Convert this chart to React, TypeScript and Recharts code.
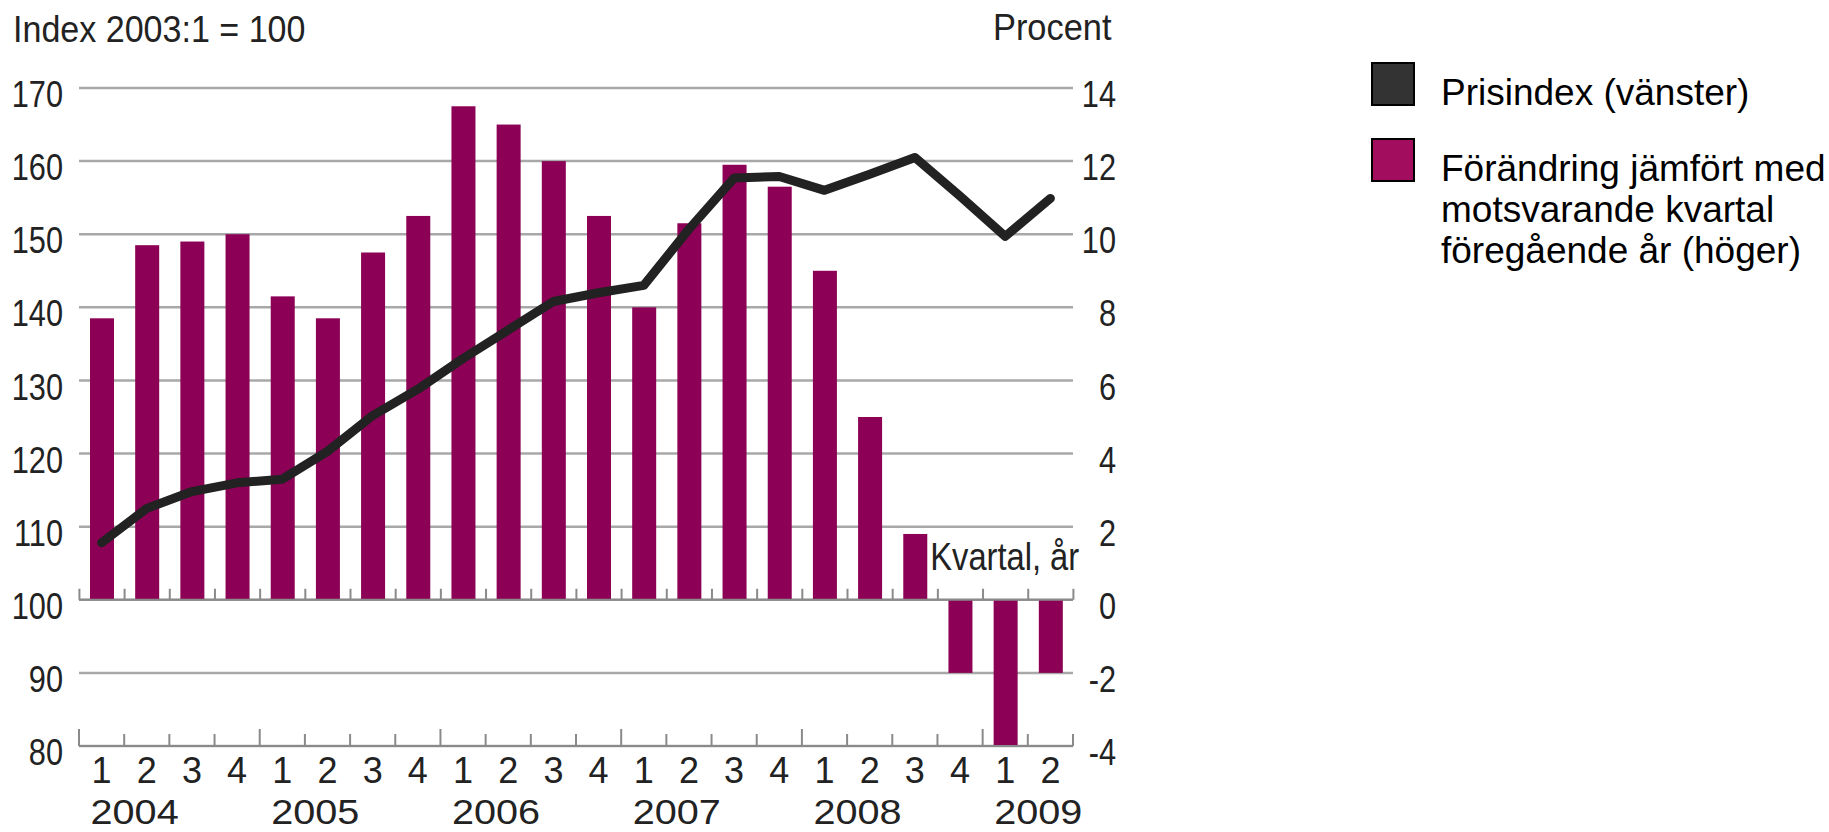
import {
  ComposedChart,
  Bar,
  Line,
  XAxis,
  YAxis,
  CartesianGrid,
  ReferenceLine,
} from "recharts";

// quarters, "year:quarter"
const periods = [
  "2004:1", "2004:2", "2004:3", "2004:4",
  "2005:1", "2005:2", "2005:3", "2005:4",
  "2006:1", "2006:2", "2006:3", "2006:4",
  "2007:1", "2007:2", "2007:3", "2007:4",
  "2008:1", "2008:2", "2008:3", "2008:4",
  "2009:1", "2009:2",
];

// Prisindex (vänster), index 2003:1 = 100
const prisindex = [
  107.8, 112.5, 114.8, 116.0, 116.5, 120.3, 125.2, 128.8, 133.0, 136.9, 140.8,
  142.0, 143.0, 150.7, 157.7, 157.9, 156.0, 158.2, 160.5, 155.2, 149.7, 154.9,
];

// Förändring jämfört med motsvarande kvartal föregående år (höger), procent
const forandring = [
  7.7, 9.7, 9.8, 10.0, 8.3, 7.7, 9.5, 10.5, 13.5, 13.0, 12.0, 10.5, 8.0, 10.3,
  11.9, 11.3, 9.0, 5.0, 1.8, -2.0, -4.0, -2.0,
];

const leftTicks = [80, 90, 100, 110, 120, 130, 140, 150, 160, 170];
const rightTicks = [-4, -2, 0, 2, 4, 6, 8, 10, 12, 14];

const data = periods.map((period, i) => ({
  period,
  prisindex: prisindex[i],
  forandring: forandring[i],
}));

const CHART_W = 1130;
const CHART_H = 832;
const LEFT_AXIS_W = 79;
const RIGHT_AXIS_W = 57;
const X_AXIS_H = 86;
const TOP = 88;
const BAND = (CHART_W - LEFT_AXIS_W - RIGHT_AXIS_W) / periods.length;

const BAR_COLOR = "#8c0055";
const AXIS_COLOR = "#8a8a8a";
const GRID_COLOR = "#a8a8a8";
const TEXT_COLOR = "#222";
const FONT = "'Liberation Sans', Arial, sans-serif";
// the original uses a condensed face; squeeze the regular one horizontally
const SQUEEZE = 0.83;

const LeftTick = ({ x, y, payload }: any) => (
  <text
    x={0}
    y={0}
    transform={`translate(${x} ${y + 6}) scale(${SQUEEZE} 1)`}
    dy="0.355em"
    textAnchor="end"
    fontFamily={FONT}
    fontSize={37}
    fill={TEXT_COLOR}
  >
    {payload.value}
  </text>
);

const RightTick = ({ x, y, payload }: any) => (
  <text
    x={0}
    y={0}
    transform={`translate(${x + 43} ${y + 6}) scale(${SQUEEZE} 1)`}
    dy="0.355em"
    textAnchor="end"
    fontFamily={FONT}
    fontSize={37}
    fill={TEXT_COLOR}
  >
    {payload.value}
  </text>
);

const XTick = ({ x, y, payload }: any) => {
  const [year, q] = String(payload.value).split(":");
  const i = periods.indexOf(payload.value);
  const left = x - BAND / 2;
  return (
    <g>
      <line
        x1={left}
        x2={left}
        y1={y}
        y2={y - (q === "1" ? 17 : 12)}
        stroke={AXIS_COLOR}
        strokeWidth={2}
      />
      {i === periods.length - 1 && (
        <line
          x1={x + BAND / 2}
          x2={x + BAND / 2}
          y1={y}
          y2={y - 12}
          stroke={AXIS_COLOR}
          strokeWidth={2}
        />
      )}
      <text
        x={x}
        y={y + 24}
        dy="0.355em"
        textAnchor="middle"
        fontFamily={FONT}
        fontSize={36}
        fill={TEXT_COLOR}
      >
        {q}
      </text>
      {q === "1" && (
        <text
          x={0}
          y={0}
          transform={`translate(${x - 11} ${y + 65}) scale(1.1 1)`}
          dy="0.355em"
          textAnchor="start"
          fontFamily={FONT}
          fontSize={36}
          fill={TEXT_COLOR}
        >
          {year}
        </text>
      )}
    </g>
  );
};

// bar plus the small tick marks that sit on the zero line
const BarShape = (props: any) => {
  const { x, y, width, height, index, payload } = props;
  const value = payload.forandring;
  let zero = y + height;
  if (value < 0 && height > 0) zero = y;
  const top = Math.min(y, y + height);
  const h = Math.abs(height);
  const cx = x + width / 2;
  const left = cx - BAND / 2;
  return (
    <g>
      <rect x={x} y={top} width={width} height={h} fill={BAR_COLOR} />
      <line x1={left} x2={left} y1={zero} y2={zero - 11} stroke={AXIS_COLOR} strokeWidth={2} />
      {index === periods.length - 1 && (
        <line
          x1={cx + BAND / 2}
          x2={cx + BAND / 2}
          y1={zero}
          y2={zero - 11}
          stroke={AXIS_COLOR}
          strokeWidth={2}
        />
      )}
    </g>
  );
};

const textStyle = {
  position: "absolute" as const,
  whiteSpace: "nowrap" as const,
  color: TEXT_COLOR,
};

export default function App() {
  return (
    <div
      style={{
        position: "fixed",
        left: 0,
        top: 0,
        width: 1829,
        height: 832,
        overflow: "hidden",
        background: "#fff",
      }}
    >
      <div style={{ position: "absolute", left: 0, top: 0 }}>
        <ComposedChart
          width={CHART_W}
          height={CHART_H}
          data={data}
          margin={{ top: TOP, right: 0, bottom: 0, left: 0 }}
          barSize={24}
        >
          <CartesianGrid
            yAxisId="left"
            vertical={false}
            stroke={GRID_COLOR}
            strokeWidth={2.5}
          />
          <XAxis
            dataKey="period"
            interval={0}
            height={X_AXIS_H}
            tickSize={0}
            tickMargin={0}
            tickLine={false}
            axisLine={{ stroke: AXIS_COLOR, strokeWidth: 2 }}
            tick={XTick}
          />
          <YAxis
            yAxisId="left"
            orientation="left"
            domain={[80, 170]}
            ticks={leftTicks}
            width={LEFT_AXIS_W}
            axisLine={false}
            tickLine={false}
            tickSize={0}
            tickMargin={16}
            tick={LeftTick}
          />
          <YAxis
            yAxisId="right"
            orientation="right"
            domain={[-4, 14]}
            ticks={rightTicks}
            width={RIGHT_AXIS_W}
            axisLine={false}
            tickLine={false}
            tickSize={0}
            tickMargin={0}
            tick={RightTick}
          />
          <ReferenceLine yAxisId="right" y={0} stroke={AXIS_COLOR} strokeWidth={2} />
          <Bar
            yAxisId="right"
            dataKey="forandring"
            fill={BAR_COLOR}
            shape={BarShape}
            isAnimationActive={false}
          />
          <Line
            yAxisId="left"
            type="linear"
            dataKey="prisindex"
            stroke="#222"
            strokeWidth={9}
            strokeLinejoin="round"
            strokeLinecap="round"
            dot={false}
            activeDot={false}
            isAnimationActive={false}
          />
        </ComposedChart>
      </div>

      <div
        style={{
          ...textStyle,
          left: 13,
          top: 10,
          height: 40,
          lineHeight: "40px",
          fontFamily: FONT,
          fontSize: 37,
          transform: "scaleX(0.92)",
          transformOrigin: "left center",
        }}
      >
        Index 2003:1 = 100
      </div>
      <div
        style={{
          ...textStyle,
          right: 1829 - 1112,
          top: 8,
          height: 40,
          lineHeight: "40px",
          fontFamily: FONT,
          fontSize: 37,
          transform: "scaleX(0.93)",
          transformOrigin: "right center",
        }}
      >
        Procent
      </div>
      <div
        style={{
          ...textStyle,
          right: 1829 - 1079,
          top: 537,
          height: 40,
          lineHeight: "40px",
          fontFamily: FONT,
          fontSize: 38,
          transform: "scaleX(0.86)",
          transformOrigin: "right center",
        }}
      >
        Kvartal, år
      </div>

      {/* legend */}
      <div
        style={{
          position: "absolute",
          left: 1371,
          top: 62,
          width: 44,
          height: 44,
          boxSizing: "border-box",
          border: "2px solid #000",
          background: "#333",
        }}
      />
      <div
        style={{
          ...textStyle,
          left: 1441,
          top: 72,
          lineHeight: "41px",
          fontFamily: FONT,
          fontSize: 37,
          color: "#000",
        }}
      >
        Prisindex (vänster)
      </div>
      <div
        style={{
          position: "absolute",
          left: 1371,
          top: 138,
          width: 44,
          height: 44,
          boxSizing: "border-box",
          border: "2px solid #000",
          background: "#a30d5d",
        }}
      />
      <div
        style={{
          ...textStyle,
          left: 1441,
          top: 148,
          lineHeight: "41px",
          fontFamily: FONT,
          fontSize: 37,
          color: "#000",
        }}
      >
        Förändring jämfört med
        <br />
        motsvarande kvartal
        <br />
        föregående år (höger)
      </div>
    </div>
  );
}
